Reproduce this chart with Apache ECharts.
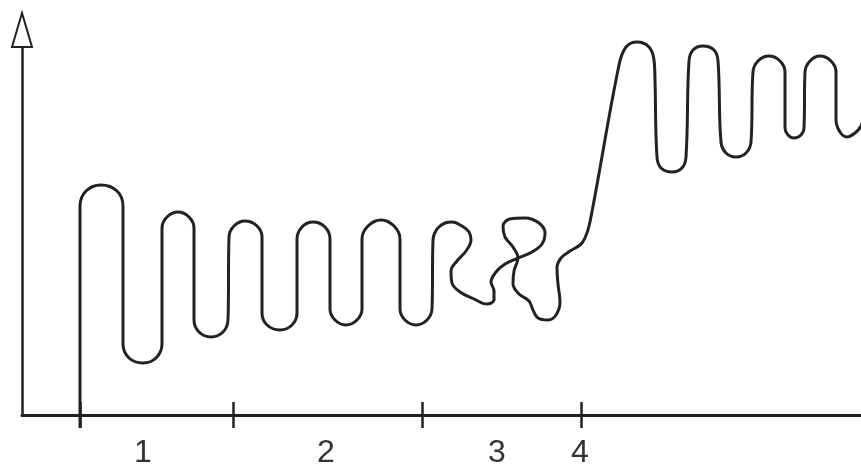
<!DOCTYPE html>
<html>
<head>
<meta charset="utf-8">
<script src="https://cdn.jsdelivr.net/npm/echarts@6/dist/echarts.min.js"></script>
<style>html,body{margin:0;padding:0;background:#fff}#c{width:861px;height:465px}</style>
</head>
<body>
<div id="c"></div>
<script>
// Curve trace: [x, height above baseline]
var curveX = [80,80, 80,86,101,117,123, 123,129,143,156,162, 162,167,178,189,194, 194,199,211,223,228, 229,234,245,257,262, 262,267,280,292,297, 297,302,313,325,330, 330,335,346,357,362, 362,368,381,394,400, 400,405,416,427,432,
  433,437,445,452,462,469,471,466,457,451,452,460,474,487,494,494,491,496,505,518,532,542,545,539,525,510,503,505,513,518,514,513,519,529,533,538,548,556,560,558,557,561,570,580,585,590,
  619,626,637,649,654,655, 657,661,672,682,686, 689,693,703,714,718, 721,726,736,746,751, 753,758,769,780,785, 785,788,794,801,804, 805,810,820,831,836, 836,840,847,855,861,864];
var curveYpx = [428,300, 206,191,185,191,206, 344,358,363,358,344, 228,217,212,217,228, 320,332,337,332,320, 237,226,221,226,237, 313,325,330,325,313, 239,227,222,227,239, 309,320,325,320,309, 239,226,220,226,239, 309,320,325,320,309,
  240,229,223,222,226,232,240,251,261,271,283,292,299,304,300,291,282,272,264,258,252,244,233,223,218,219,226,237,247,258,271,284,294,301,310,318,320,315,302,284,268,258,251,245,238,222,
  65,47,42,47,60,80, 157,168,172,168,157, 61,50,46,50,61, 142,153,157,153,142, 72,61,56,61,72, 128,135,138,135,128, 72,61,56,61,72, 120,132,137,133,126,114];
var baseline = 415;
var tickPositions = [80, 233, 422, 581];
var labelPositions = [143, 326, 497, 580];
var labelTexts = ['1', '2', '3', '4'];

var data = curveX.map(function (x, i) { return [x, baseline - curveYpx[i]]; });
var ink = '#222';
var chart = echarts.init(document.getElementById('c'), null, {renderer: 'canvas'});
chart.setOption({
  animation: false,
  backgroundColor: '#fff',
  grid: {left: 22, right: 0, top: 30, bottom: 50, containLabel: false, outerBoundsMode: 'none'},
  xAxis: [{
    type: 'value', min: 22, max: 861, position: 'bottom',
    splitLine: {show: false},
    axisLine: {show: true, lineStyle: {color: ink, width: 3}},
    axisTick: {show: true, customValues: tickPositions, length: 13, lineStyle: {color: ink, width: 2.5}},
    axisLabel: {
      show: true, customValues: labelPositions, margin: 22,
      fontFamily: 'Liberation Sans', fontSize: 32, color: '#333',
      formatter: function (v) { var i = labelPositions.indexOf(v); return i >= 0 ? labelTexts[i] : ''; }
    }
  }, {
    type: 'value', min: 22, max: 861, position: 'bottom', offset: 0,
    splitLine: {show: false},
    axisLine: {show: false},
    axisTick: {show: true, inside: true, customValues: tickPositions, length: 13, lineStyle: {color: ink, width: 2.5}},
    axisLabel: {show: false}
  }],
  yAxis: {
    type: 'value', min: 0, max: 385,
    splitLine: {show: false},
    axisTick: {show: false},
    axisLabel: {show: false},
    axisLine: {show: true, symbol: ['none', 'emptyTriangle'], symbolSize: [20, 34], lineStyle: {color: ink, width: 2.5}}
  },
  series: [{
    type: 'line', xAxisIndex: 0, data: data, smooth: 0.38, clip: false,
    showSymbol: false, symbol: 'none',
    lineStyle: {color: ink, width: 3}
  }]
});
</script>
</body>
</html>
